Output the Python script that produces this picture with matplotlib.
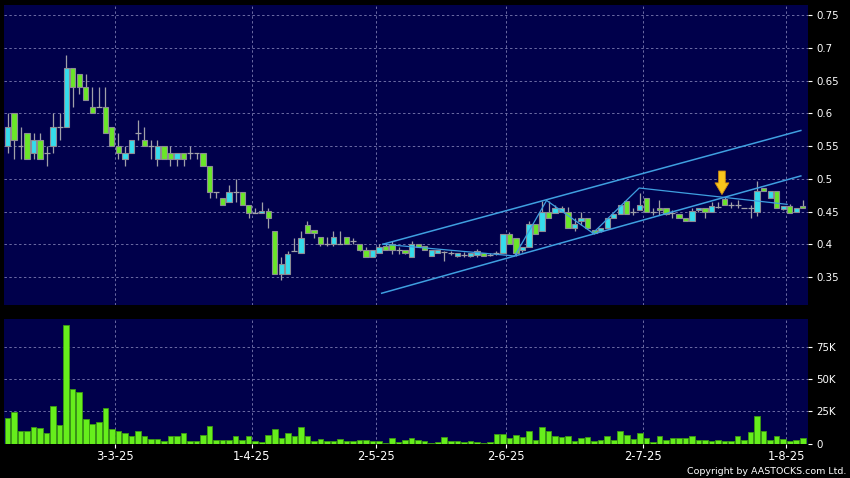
import matplotlib
matplotlib.use("Agg")
import matplotlib.pyplot as plt
import numpy as np

# daily candles (bar index 0 = first visible day)
opens = [0.55, 0.60, 0.55, 0.57, 0.54, 0.56, 0.54, 0.55, 0.58, 0.58,
         0.67, 0.66, 0.64, 0.61, 0.61, 0.61, 0.58, 0.55, 0.53, 0.54,
         0.57, 0.56, 0.55, 0.53, 0.55, 0.54, 0.53, 0.54, 0.54, 0.54,
         0.54, 0.52, 0.48, 0.47, 0.465, 0.48, 0.48, 0.46, 0.447, 0.447,
         0.451, 0.42, 0.355, 0.355, 0.39, 0.386, 0.43, 0.421, 0.411, 0.401,
         0.401, 0.40, 0.411, 0.405, 0.401, 0.391, 0.381, 0.386, 0.397, 0.401,
         0.391, 0.391, 0.381, 0.401, 0.397, 0.382, 0.387, 0.388, 0.386, 0.382,
         0.384, 0.382, 0.383, 0.386, 0.384, 0.386, 0.386, 0.415, 0.41, 0.391,
         0.396, 0.431, 0.42, 0.45, 0.447, 0.45, 0.45, 0.425, 0.436, 0.44,
         0.421, 0.42, 0.425, 0.44, 0.446, 0.466, 0.45, 0.452, 0.471, 0.45,
         0.455, 0.455, 0.447, 0.446, 0.44, 0.435, 0.452, 0.455, 0.45, 0.457,
         0.469, 0.46, 0.46, 0.455, 0.455, 0.45, 0.486, 0.471, 0.481, 0.454,
         0.459, 0.45, 0.459]
highs = [0.60, 0.60, 0.58, 0.57, 0.57, 0.57, 0.55, 0.60, 0.60, 0.69,
         0.67, 0.66, 0.66, 0.64, 0.64, 0.64, 0.58, 0.57, 0.55, 0.56,
         0.59, 0.58, 0.56, 0.56, 0.55, 0.55, 0.54, 0.54, 0.55, 0.54,
         0.54, 0.52, 0.48, 0.47, 0.49, 0.50, 0.48, 0.46, 0.455, 0.465,
         0.455, 0.42, 0.38, 0.39, 0.41, 0.42, 0.435, 0.421, 0.411, 0.411,
         0.42, 0.42, 0.411, 0.41, 0.401, 0.395, 0.391, 0.40, 0.40, 0.405,
         0.395, 0.391, 0.405, 0.401, 0.397, 0.391, 0.391, 0.39, 0.39, 0.386,
         0.388, 0.386, 0.392, 0.386, 0.386, 0.39, 0.416, 0.418, 0.41, 0.396,
         0.435, 0.431, 0.466, 0.466, 0.46, 0.458, 0.457, 0.44, 0.45, 0.44,
         0.421, 0.425, 0.44, 0.446, 0.46, 0.466, 0.455, 0.478, 0.471, 0.455,
         0.468, 0.455, 0.452, 0.446, 0.44, 0.455, 0.455, 0.455, 0.465, 0.465,
         0.472, 0.465, 0.468, 0.455, 0.46, 0.496, 0.486, 0.481, 0.481, 0.459,
         0.462, 0.455, 0.467]
lows = [0.54, 0.53, 0.53, 0.53, 0.53, 0.53, 0.52, 0.54, 0.56, 0.58,
        0.61, 0.63, 0.62, 0.60, 0.61, 0.57, 0.55, 0.53, 0.52, 0.54,
        0.56, 0.55, 0.53, 0.52, 0.53, 0.52, 0.52, 0.52, 0.53, 0.53,
        0.52, 0.47, 0.47, 0.46, 0.465, 0.465, 0.46, 0.44, 0.447, 0.447,
        0.425, 0.355, 0.345, 0.355, 0.39, 0.386, 0.417, 0.41, 0.398, 0.398,
        0.398, 0.40, 0.40, 0.40, 0.39, 0.38, 0.381, 0.386, 0.391, 0.385,
        0.385, 0.385, 0.381, 0.396, 0.391, 0.382, 0.387, 0.375, 0.383, 0.38,
        0.38, 0.38, 0.38, 0.382, 0.382, 0.383, 0.386, 0.40, 0.382, 0.388,
        0.396, 0.416, 0.42, 0.44, 0.447, 0.45, 0.425, 0.42, 0.43, 0.425,
        0.415, 0.418, 0.425, 0.44, 0.446, 0.446, 0.445, 0.452, 0.45, 0.445,
        0.445, 0.445, 0.44, 0.44, 0.435, 0.435, 0.45, 0.44, 0.45, 0.455,
        0.46, 0.455, 0.455, 0.455, 0.44, 0.443, 0.482, 0.471, 0.456, 0.452,
        0.447, 0.45, 0.455]
closes = [0.58, 0.56, 0.55, 0.53, 0.56, 0.53, 0.54, 0.58, 0.58, 0.67,
          0.64, 0.64, 0.62, 0.60, 0.61, 0.57, 0.55, 0.54, 0.54, 0.56,
          0.57, 0.55, 0.55, 0.55, 0.53, 0.53, 0.54, 0.53, 0.54, 0.54,
          0.52, 0.48, 0.48, 0.46, 0.48, 0.48, 0.46, 0.447, 0.447, 0.451,
          0.44, 0.355, 0.37, 0.385, 0.39, 0.41, 0.417, 0.417, 0.401, 0.401,
          0.411, 0.40, 0.401, 0.405, 0.391, 0.381, 0.391, 0.396, 0.391, 0.391,
          0.391, 0.386, 0.401, 0.396, 0.391, 0.391, 0.391, 0.388, 0.386, 0.386,
          0.384, 0.386, 0.39, 0.382, 0.384, 0.386, 0.416, 0.40, 0.386, 0.396,
          0.431, 0.416, 0.45, 0.44, 0.455, 0.455, 0.425, 0.431, 0.44, 0.425,
          0.417, 0.425, 0.44, 0.446, 0.46, 0.446, 0.45, 0.46, 0.45, 0.45,
          0.452, 0.446, 0.447, 0.44, 0.436, 0.451, 0.455, 0.45, 0.459, 0.457,
          0.46, 0.46, 0.46, 0.455, 0.455, 0.481, 0.482, 0.481, 0.456, 0.459,
          0.447, 0.455, 0.455]
# volume in thousands of shares
volumes_k = [20, 24.4, 9.6, 9.6, 13, 12, 8.3, 28.9, 14, 92.4,
             42.4, 40, 18.7, 14.8, 16.6, 27.3, 11.4, 9.4, 8, 5.5,
             9.6, 6.2, 3.6, 3.6, 2.3, 5.9, 5.9, 7.8, 2.3, 2.3,
             6.5, 13.3, 2.8, 2.5, 2.5, 5.9, 3, 6, 2.3, 1.3,
             6.5, 11.2, 3.9, 7.8, 5.5, 12.7, 5.5, 2.3, 3.4, 1.8,
             1.8, 3.4, 1.8, 1.8, 2.8, 2.8, 2.3, 2, 0.7, 4.4,
             1, 2.5, 3.9, 2.5, 1.8, 0.6, 0.8, 5.2, 2.3, 1.8,
             1.3, 2.3, 1.0, 0.7, 0.8, 7, 7, 4.4, 6.6, 5,
             9.9, 2.6, 12.5, 9.6, 5.7, 4.7, 6.2, 1.8, 3.9, 5,
             2.3, 2.8, 6.2, 2.5, 9.4, 6.7, 3.4, 7.8, 3.9, 1.5,
             5.7, 2.5, 3.9, 3.9, 3.9, 6.2, 3, 3, 1.8, 3,
             2.3, 2, 5.7, 2.5, 8.6, 21.3, 9.6, 3, 6.2, 3.6,
             2.3, 3, 4.4]

# first trading day of each month (bar index) and its label
month_start_bar = [17, 38, 57, 77, 98, 120]
month_labels = ["3-3-25", "1-4-25", "2-5-25", "2-6-25", "2-7-25", "1-8-25"]

price_ticks = [0.35, 0.4, 0.45, 0.5, 0.55, 0.6, 0.65, 0.7, 0.75]
vol_ticks = [0, 25000, 50000, 75000]
vol_tick_labels = ["0", "25K", "50K", "75K"]

# hand drawn lines on the chart: (bar, price) end points
channel_upper = [(57.6, 0.400), (121.7, 0.574)]
channel_lower = [(57.4, 0.325), (121.7, 0.5045)]
zigzag = [(57.6, 0.400), (77.8, 0.382), (82.7, 0.467), (89.8, 0.417),
          (96.9, 0.486), (119.6, 0.461)]
arrow_bar = 110

BG = "#00004b"
UP = "#35dcec"
DOWN = "#6ae628"
GRID = "#6c6ca4"
LINE = "#3f9fe0"

o = np.array(opens)
h = np.array(highs)
l = np.array(lows)
c = np.array(closes)
v = np.array(volumes_k) * 1000
x = np.arange(len(o))

fig = plt.figure(figsize=(8.5, 4.78), dpi=100, facecolor="black")
ax1 = fig.add_axes([4 / 850, 1 - 305 / 478, 804 / 850, 300 / 478])
ax2 = fig.add_axes([4 / 850, 1 - 443.5 / 478, 804 / 850, 124.5 / 478], sharex=ax1)

for ax in (ax1, ax2):
    ax.set_facecolor(BG)
    for s in ax.spines.values():
        s.set_visible(False)
    for b in month_start_bar:
        ax.axvline(b - 0.5, color=GRID, lw=0.7, ls=(0, (2.5, 2.5)), zorder=0)

# candles
ax1.vlines(x, l, h, color="#a0a0a8", lw=0.9, zorder=2)
up = c > o
down = c < o
doji = c == o
ax1.bar(x[up], (c - o)[up], bottom=o[up], width=0.82, color=UP,
        edgecolor="#8c8c94", lw=0.8, zorder=3)
ax1.bar(x[down], (o - c)[down], bottom=c[down], width=0.82, color=DOWN,
        edgecolor="#8c8c94", lw=0.8, zorder=3)
ax1.hlines(c[doji], x[doji] - 0.45, x[doji] + 0.45, color="#a0a0a8", lw=0.9, zorder=3)

for line in (channel_upper, channel_lower):
    lx, ly = zip(*line)
    ax1.plot(lx, ly, color=LINE, lw=1.1, zorder=4)
zx, zy = zip(*zigzag)
ax1.plot(zx, zy, color=LINE, lw=0.9, zorder=4)

ax1.annotate("", xy=(arrow_bar - 0.4, highs[arrow_bar] + 0.004),
             xytext=(arrow_bar - 0.4, highs[arrow_bar] + 0.04),
             arrowprops=dict(arrowstyle="simple,head_width=10,head_length=8.4,tail_width=4.8",
                             mutation_scale=1, fc="#f7c51c", ec="#d08a10", lw=0.6,
                             shrinkA=0, shrinkB=0), zorder=6)

ax1.set_ylim(0.307, 0.766)
ax1.set_yticks(price_ticks)
ax1.set_yticklabels([f"{t:g}" for t in price_ticks])
ax1.yaxis.tick_right()
ax1.grid(axis="y", color=GRID, lw=0.7, ls=(0, (2.5, 2.5)))
ax1.set_axisbelow(True)
ax1.tick_params(axis="y", colors="white", labelsize=7.4, length=3, width=0.8, pad=3)
ax1.tick_params(axis="x", bottom=False, labelbottom=False)

# volume
ax2.bar(x, v, width=0.85, color="#66ee1c", edgecolor="#3c9a12", lw=0.6, zorder=3)
ax2.set_ylim(0, 96800)
ax2.set_yticks(vol_ticks)
ax2.set_yticklabels(vol_tick_labels)
ax2.yaxis.tick_right()
ax2.grid(axis="y", color=GRID, lw=0.7, ls=(0, (2.5, 2.5)))
ax2.set_axisbelow(True)
ax2.tick_params(axis="y", colors="white", labelsize=7.4, length=3, width=0.8, pad=3)
ax2.set_xticks([b - 0.5 for b in month_start_bar])
ax2.set_xticklabels(month_labels)
ax2.tick_params(axis="x", colors="white", labelsize=8.3, length=3, width=0.8, pad=2)
ax2.set_xlim(-0.54, 122.8)

fig.text(846 / 850, 1 - 471 / 478, "Copyright by AASTOCKS.com Ltd.", color="white",
         fontsize=6.8, ha="right", va="center")

fig.savefig("out.png", dpi=100, facecolor="black")
